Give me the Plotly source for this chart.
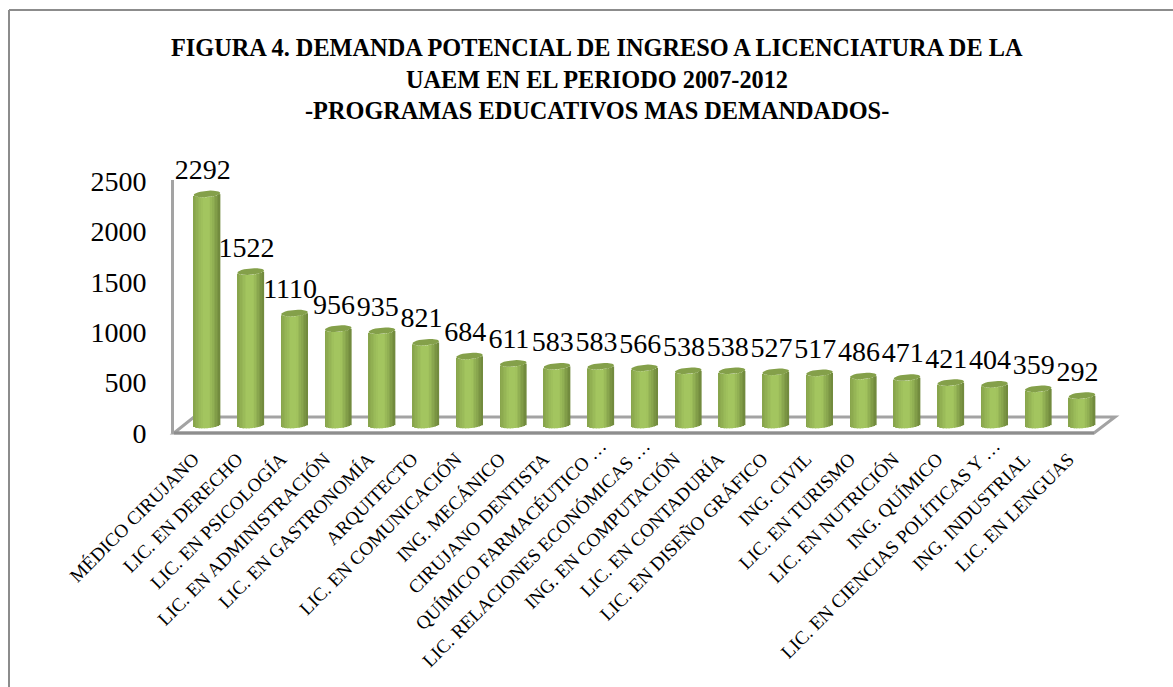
import math
import plotly.graph_objects as go

W, H = 1173, 687
categories = ["MÉDICO CIRUJANO", "LIC. EN DERECHO", "LIC. EN PSICOLOGÍA", "LIC. EN ADMINISTRACIÓN",
              "LIC. EN GASTRONOMÍA", "ARQUITECTO", "LIC. EN COMUNICACIÓN", "ING. MECÁNICO",
              "CIRUJANO DENTISTA", "QUÍMICO FARMACÉUTICO …", "LIC. RELACIONES ECONÓMICAS …",
              "ING. EN COMPUTACIÓN", "LIC. EN CONTADURÍA", "LIC. EN DISEÑO GRÁFICO", "ING. CIVIL",
              "LIC. EN TURISMO", "LIC. EN NUTRICIÓN", "ING. QUÍMICO", "LIC. EN CIENCIAS POLÍTICAS Y …",
              "ING. INDUSTRIAL", "LIC. EN LENGUAS"]
values = [2292, 1522, 1110, 956, 935, 821, 684, 611, 583, 583, 566, 538, 538, 527, 517, 486, 471, 421, 404, 359, 292]
y_ticks = [0, 500, 1000, 1500, 2000, 2500]
title_lines = ["FIGURA 4. DEMANDA POTENCIAL DE INGRESO A LICENCIATURA DE LA",
               "UAEM EN EL PERIODO 2007-2012",
               "-PROGRAMAS EDUCATIVOS MAS DEMANDADOS-"]

FONT = "Liberation Serif"
GRAY = "#a3a3a3"
L, R, T, B = 174, 1115, 180, 433
SPACING = 43.75
X0 = 207
UNIT = 0.1008            # px per value unit
BASE_SHIFT = 8           # px between front plane (ticks) and the bars' feet

def hexmix(a, b, t):
    ca = [int(a[i:i + 2], 16) for i in (1, 3, 5)]
    cb = [int(b[i:i + 2], 16) for i in (1, 3, 5)]
    return "#%02x%02x%02x" % tuple(round(x + (y - x) * t) for x, y in zip(ca, cb))

def strip_colour(t):
    if t < -0.25:
        return hexmix("#86a24a", "#a3c55f", (t + 1) / 0.75)
    if t < 0.2:
        return "#a3c55f"
    return hexmix("#a3c55f", "#6e863b", (t - 0.2) / 0.8)

fig = go.Figure()
x = list(range(len(values)))
BAR_W = 26.5 / SPACING
RY = 3.2 / UNIT
TILT = 1.0 / UNIT
N = 17
for k in range(N):
    t0 = -1 + 2 * k / N
    t = t0 + 1 / N
    ell = math.sqrt(max(0, 1 - t * t))
    bases = [-RY * ell + TILT * t for _ in values]
    fig.add_trace(go.Bar(x=x, y=values, base=bases, width=BAR_W / N * 1.08,
                         offset=t0 * BAR_W / 2, yaxis="y2",
                         marker=dict(color=strip_colour(t), line_width=0),
                         hoverinfo="skip", showlegend=False))

ex, ey = [], []
for i, v in zip(x, values):
    for a in range(0, 361, 15):
        c, s = math.cos(math.radians(a)), math.sin(math.radians(a))
        ex.append(i + c * BAR_W / 2)
        ey.append(v + s * RY + c * TILT)
    ex.append(None)
    ey.append(None)
fig.add_trace(go.Scatter(x=ex, y=ey, mode="lines", fill="toself", fillcolor="#84a04a",
                         line=dict(width=0), yaxis="y2", hoverinfo="skip", showlegend=False))

fig.add_trace(go.Scatter(x=[i - 0.1 for i in x], y=[v + 80 for v in values], mode="text",
                         text=[str(v) for v in values], textposition="top center",
                         textfont=dict(family=FONT, size=28, color="black"), cliponaxis=False,
                         yaxis="y2", hoverinfo="skip", showlegend=False))
fig.add_trace(go.Scatter(x=[0], y=[0], mode="none", yaxis="y", hoverinfo="skip", showlegend=False))

def px(v):
    return (v - L) / (R - L)
def py(v):
    return (B - v) / (B - T)

shapes = [
    dict(type="path", xref="paper", yref="paper", layer="below",
         path=f"M {px(L)} {py(B)} L {px(194)} {py(417)} L {px(R)} {py(417)} L {px(1094)} {py(B)} Z",
         line=dict(color=GRAY, width=3), fillcolor="white"),
    dict(type="line", xref="paper", yref="paper", layer="below",
         x0=px(L), x1=px(1094), y0=py(B), y1=py(B), line=dict(color="#8e8e8e", width=3)),
    dict(type="line", xref="paper", yref="paper", layer="below",
         x0=px(9), x1=px(W), y0=py(10), y1=py(10), line=dict(color="#8c8c8c", width=2)),
    dict(type="line", xref="paper", yref="paper", layer="below",
         x0=px(9), x1=px(9), y0=py(10), y1=py(H), line=dict(color="#8c8c8c", width=2)),
]

annotations = [
    dict(text=f"<b>{line}</b>", xref="paper", yref="paper", x=px(597), y=py(yy), showarrow=False,
         xanchor="center", yanchor="middle", font=dict(family=FONT, size=24.3, color="black"))
    for line, yy in zip(title_lines, [48, 79, 110])
]

# whole labels sit further back from the tick than the truncated ones do
ticktext = [c if c.endswith("…") else c + "\u00a0" * 4 for c in categories]

fig.update_layout(
    width=W, height=H, margin=dict(l=L, r=W - R, t=T, b=H - B, autoexpand=False),
    paper_bgcolor="white", plot_bgcolor="rgba(0,0,0,0)", barmode="overlay", showlegend=False,
    shapes=shapes, annotations=annotations,
    xaxis=dict(range=[-(X0 - L) / SPACING, (R - X0) / SPACING], tickmode="array", tickvals=x,
               ticktext=ticktext, tickangle=-45, showgrid=False, zeroline=False, showline=False,
               ticks="", ticklabelstandoff=-3, tickfont=dict(family=FONT, size=19, color="black")),
    yaxis=dict(range=[0, (B - T) / UNIT], tickmode="array", tickvals=y_ticks, showgrid=False,
               zeroline=False, showline=True, linecolor=GRAY, linewidth=3, ticks="",
               ticklabelstandoff=19, tickfont=dict(family=FONT, size=28, color="black")),
    yaxis2=dict(range=[-BASE_SHIFT / UNIT, (B - T - BASE_SHIFT) / UNIT], overlaying="y", visible=False),
)

fig.write_html("out.html", config={"displayModeBar": False},
               post_script="document.body.style.margin='0';document.body.style.overflow='hidden';")
